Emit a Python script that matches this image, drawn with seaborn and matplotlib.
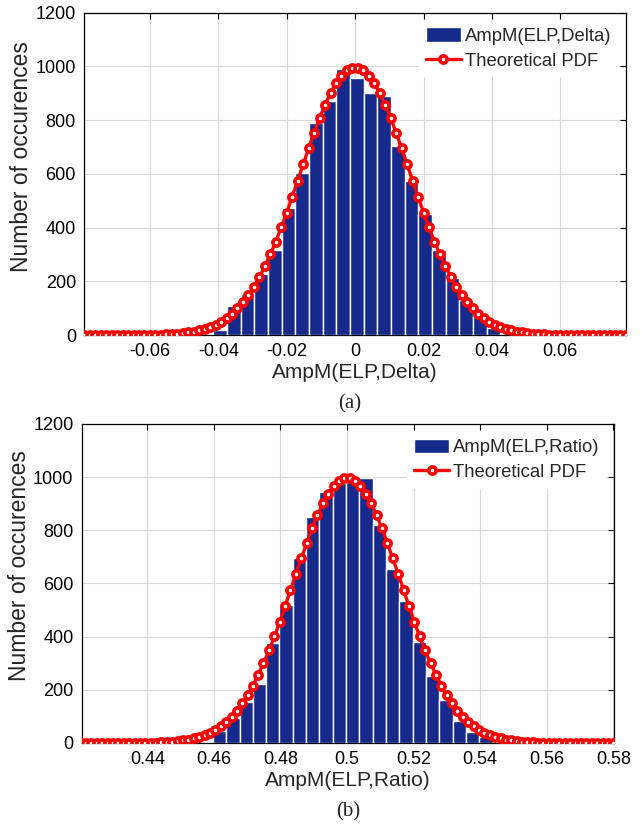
import numpy as np
import pandas as pd
import matplotlib
matplotlib.use("Agg")
import matplotlib.pyplot as plt
import seaborn as sns
from matplotlib import font_manager

# ---------------- data ----------------
bins_a = [-0.0395, -0.0355, -0.0315, -0.0275, -0.0235, -0.0195, -0.0155, -0.0115, -0.0075, -0.0035,
          0.0005, 0.0045, 0.0085, 0.0125, 0.0165, 0.0205, 0.0245, 0.0285, 0.0325, 0.0365, 0.0405]
counts_a = [19, 109, 151, 227, 316, 472, 602, 788, 872, 990,
            958, 900, 890, 705, 573, 450, 316, 211, 130, 68, 25]

bins_b = [0.4617, 0.4657, 0.4697, 0.4737, 0.4777, 0.4817, 0.4857, 0.4897, 0.4937, 0.4977,
          0.5017, 0.5057, 0.5097, 0.5137, 0.5177, 0.5217, 0.5257, 0.5297, 0.5337, 0.5377, 0.5417]
counts_b = [45, 93, 153, 222, 375, 519, 695, 849, 946, 977,
            983, 996, 820, 655, 534, 381, 253, 162, 84, 43, 24]

pdf_a_x = [-0.0792, -0.0776, -0.0760, -0.0744, -0.0728, -0.0712, -0.0696, -0.0680, -0.0664, -0.0648,
           -0.0632, -0.0616, -0.0600, -0.0584, -0.0568, -0.0552, -0.0536, -0.0520, -0.0504, -0.0488,
           -0.0472, -0.0456, -0.0440, -0.0424, -0.0408, -0.0392, -0.0376, -0.0360, -0.0344, -0.0328,
           -0.0312, -0.0296, -0.0280, -0.0264, -0.0248, -0.0232, -0.0216, -0.0200, -0.0184, -0.0168,
           -0.0152, -0.0136, -0.0120, -0.0104, -0.0088, -0.0072, -0.0056, -0.0040, -0.0024, -0.0008,
           0.0008, 0.0024, 0.0040, 0.0056, 0.0072, 0.0088, 0.0104, 0.0120, 0.0136, 0.0152,
           0.0168, 0.0184, 0.0200, 0.0216, 0.0232, 0.0248, 0.0264, 0.0280, 0.0296, 0.0312,
           0.0328, 0.0344, 0.0360, 0.0376, 0.0392, 0.0408, 0.0424, 0.0440, 0.0456, 0.0472,
           0.0488, 0.0504, 0.0520, 0.0536, 0.0552, 0.0568, 0.0584, 0.0600, 0.0616, 0.0632,
           0.0648, 0.0664, 0.0680, 0.0696, 0.0712, 0.0728, 0.0744, 0.0760, 0.0776, 0.0792]
pdf_a_y = [0, 0, 0, 0, 0, 0.1, 0.1, 0.1, 0.2, 0.3,
           0.4, 0.6, 0.9, 1.3, 1.8, 2.6, 3.6, 5, 7, 10,
           13, 17, 23, 30, 39, 50, 63, 79, 99, 122,
           149, 180, 216, 256, 300, 348, 401, 456, 515, 575,
           635, 695, 753, 807, 857, 901, 938, 966, 986, 996,
           996, 986, 966, 938, 901, 857, 807, 753, 695, 635,
           575, 515, 456, 401, 348, 300, 256, 216, 180, 149,
           122, 99, 79, 63, 50, 39, 30, 23, 17, 13,
           10, 7, 5, 3.6, 2.6, 1.8, 1.3, 0.9, 0.6, 0.4,
           0.3, 0.2, 0.1, 0.1, 0.1, 0, 0, 0, 0, 0]

pdf_b_x = [0.4200, 0.4216, 0.4232, 0.4248, 0.4265, 0.4281, 0.4297, 0.4313, 0.4329, 0.4345,
           0.4362, 0.4378, 0.4394, 0.4410, 0.4426, 0.4442, 0.4459, 0.4475, 0.4491, 0.4507,
           0.4523, 0.4539, 0.4556, 0.4572, 0.4588, 0.4604, 0.4620, 0.4636, 0.4653, 0.4669,
           0.4685, 0.4701, 0.4717, 0.4733, 0.4749, 0.4766, 0.4782, 0.4798, 0.4814, 0.4830,
           0.4846, 0.4863, 0.4879, 0.4895, 0.4911, 0.4927, 0.4943, 0.4960, 0.4976, 0.4992,
           0.5008, 0.5024, 0.5040, 0.5057, 0.5073, 0.5089, 0.5105, 0.5121, 0.5137, 0.5154,
           0.5170, 0.5186, 0.5202, 0.5218, 0.5234, 0.5251, 0.5267, 0.5283, 0.5299, 0.5315,
           0.5331, 0.5347, 0.5364, 0.5380, 0.5396, 0.5412, 0.5428, 0.5444, 0.5461, 0.5477,
           0.5493, 0.5509, 0.5525, 0.5541, 0.5558, 0.5574, 0.5590, 0.5606, 0.5622, 0.5638,
           0.5655, 0.5671, 0.5687, 0.5703, 0.5719, 0.5735, 0.5752, 0.5768, 0.5784, 0.5800]
pdf_b_y = [0, 0, 0, 0, 0, 0.1, 0.1, 0.1, 0.2, 0.3,
           0.4, 0.6, 0.9, 1.3, 1.8, 2.6, 3.6, 5, 7, 10,
           13, 17, 23, 30, 39, 50, 63, 79, 99, 122,
           149, 180, 216, 256, 300, 348, 401, 456, 515, 575,
           635, 695, 753, 807, 857, 901, 938, 966, 986, 996,
           996, 986, 966, 938, 901, 857, 807, 753, 695, 635,
           575, 515, 456, 401, 348, 300, 256, 216, 180, 149,
           122, 99, 79, 63, 50, 39, 30, 23, 17, 13,
           10, 7, 5, 3.6, 2.6, 1.8, 1.3, 0.9, 0.6, 0.4,
           0.3, 0.2, 0.1, 0.1, 0.1, 0, 0, 0, 0, 0]

xticks_a = [-0.06, -0.04, -0.02, 0, 0.02, 0.04, 0.06]
xticklabels_a = ["-0.06", "-0.04", "-0.02", "0", "0.02", "0.04", "0.06"]
xticks_b = [0.44, 0.46, 0.48, 0.50, 0.52, 0.54, 0.56, 0.58]
xticklabels_b = ["0.44", "0.46", "0.48", "0.5", "0.52", "0.54", "0.56", "0.58"]
yticks = [0, 200, 400, 600, 800, 1000, 1200]

hist_label_a = "AmpM(ELP,Delta)"
hist_label_b = "AmpM(ELP,Ratio)"
pdf_label = "Theoretical PDF"
ylabel = "Number of occurences"

# ---------------- style ----------------
sns.set_style("white")


def pick(fams):
    for f in fams:
        try:
            font_manager.findfont(font_manager.FontProperties(family=f), fallback_to_default=False)
            return f
        except Exception:
            pass
    return "DejaVu Sans"


SANS = pick(["Liberation Sans", "Arial"])
SERIF = pick(["Liberation Serif", "Times New Roman", "DejaVu Serif"])
plt.rcParams["font.family"] = [SANS, "DejaVu Sans"]

BLUE = "#152a8a"
GRID = "#dadada"

fig = plt.figure(figsize=(6.44, 8.26), dpi=100)
ax1 = fig.add_axes([0.1309, 0.5944, 0.8411, 0.3902])
ax2 = fig.add_axes([0.1269, 0.1005, 0.8266, 0.3862])


def draw(ax, bins, counts, px, py, hlabel, xticks, xtl, xlim, xlabel):
    sns.barplot(x=bins, y=counts, native_scale=True, width=1.0, color=BLUE, saturation=1,
                edgecolor="white", linewidth=1.0, errorbar=None, ax=ax, label=hlabel, zorder=2)
    sns.lineplot(x=px, y=py, color="red", lw=2.4, marker="o", markersize=5.2,
                 markerfacecolor="white", markeredgecolor="red", markeredgewidth=2.6,
                 ax=ax, label=pdf_label, zorder=3)
    ax.set_xlim(*xlim)
    ax.set_ylim(0, 1200)
    ax.set_xticks(xticks)
    ax.set_xticklabels(xtl)
    ax.set_yticks(yticks)
    ax.set_yticklabels([str(v) for v in yticks])
    ax.grid(True, color=GRID, lw=0.8)
    ax.set_axisbelow(True)
    ax.tick_params(direction="in", top=True, right=True, length=4, width=0.8,
                   labelsize=13, pad=6, colors="black")
    for s in ax.spines.values():
        s.set_visible(True)
        s.set_color("black")
        s.set_linewidth(0.9)
    ax.set_xlabel(xlabel, fontsize=15, labelpad=2)
    ax.set_ylabel(ylabel, fontsize=16.5)
    ax.yaxis.set_label_coords(-0.095, 0.555)
    h, l = ax.get_legend_handles_labels()
    order = [l.index(hlabel), l.index(pdf_label)]
    leg = ax.legend([h[i] for i in order], [l[i] for i in order], loc="upper right",
                    fontsize=13.3, frameon=True, fancybox=False, numpoints=1,
                    framealpha=1, edgecolor="none", handlelength=1.9, handleheight=0.8,
                    handletextpad=0.2, labelspacing=0.4, borderpad=0.4,
                    borderaxespad=0.4)
    leg.get_frame().set_linewidth(0)


draw(ax1, bins_a, counts_a, pdf_a_x, pdf_a_y, hist_label_a, xticks_a, xticklabels_a,
     (-0.0792, 0.0792), hist_label_a)
draw(ax2, bins_b, counts_b, pdf_b_x, pdf_b_y, hist_label_b, xticks_b, xticklabels_b,
     (0.4203, 0.5802), hist_label_b)

fig.text(0.543, 0.511, "(a)", family=SERIF, fontsize=15, ha="center", va="center")
fig.text(0.540, 0.017, "(b)", family=SERIF, fontsize=15, ha="center", va="center")

fig.savefig("out.png", dpi=100)
